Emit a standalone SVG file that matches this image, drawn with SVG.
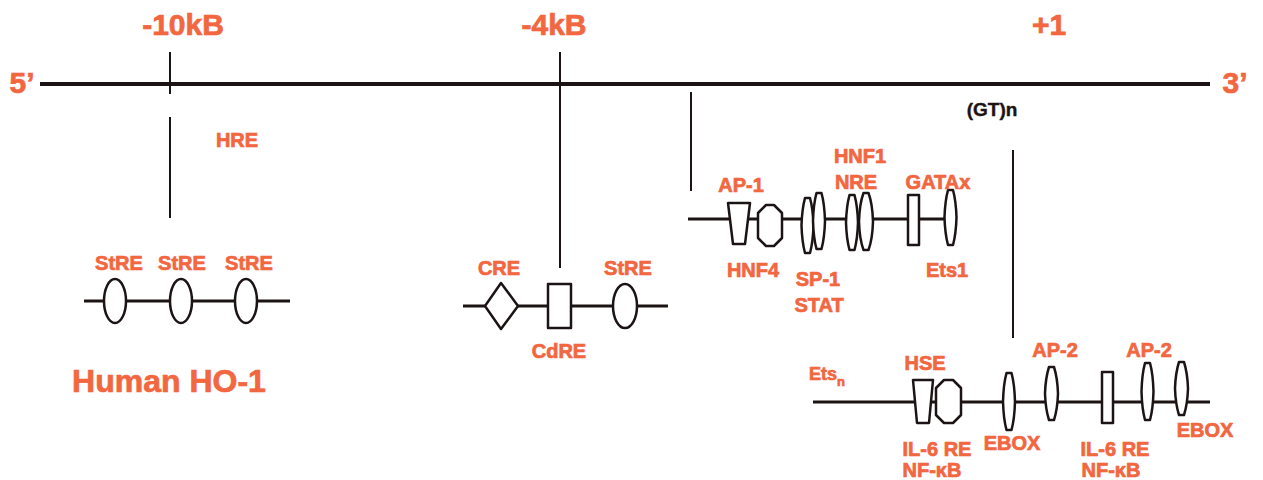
<svg xmlns="http://www.w3.org/2000/svg" width="1263" height="480" viewBox="0 0 1263 480">
<style>
.t{font-family:"Liberation Sans",Arial,sans-serif;font-weight:bold;fill:#F26640;stroke:#F26640;stroke-width:0.7;text-anchor:middle}
.big{font-size:30px}
.lab{font-size:20px}
.blk{fill:#1c1414;stroke:#1c1414;stroke-width:0.4;font-size:19px}
.ln{stroke:#1c1414;fill:none}
.sh{stroke:#1c1414;stroke-width:2.5;fill:#fff;stroke-linejoin:round}
</style>
<rect width="1263" height="480" fill="#fff"/>
<g id="connectors">
<line class="ln" x1="40" y1="84" x2="1210" y2="84" stroke-width="4"/>
<line class="ln" x1="170" y1="52" x2="170" y2="94" stroke-width="2"/>
<line class="ln" x1="170" y1="117" x2="170" y2="218" stroke-width="2"/>
<line class="ln" x1="560" y1="52" x2="560" y2="268" stroke-width="2"/>
<line class="ln" x1="691" y1="92" x2="691" y2="191" stroke-width="2"/>
<line class="ln" x1="1013" y1="150" x2="1013" y2="338" stroke-width="2"/>
<line class="ln" x1="84" y1="301" x2="290" y2="301" stroke-width="3"/>
<line class="ln" x1="463" y1="306" x2="668" y2="306" stroke-width="3"/>
<line class="ln" x1="688" y1="219" x2="952" y2="219" stroke-width="3"/>
<line class="ln" x1="813" y1="402" x2="1210" y2="402" stroke-width="3"/>
</g>
<g id="axis-labels">
<text class="t big" x="22" y="93">5’</text>
<text class="t big" x="1235" y="93">3’</text>
<text class="t big" x="183" y="35">-10kB</text>
<text class="t big" x="554" y="35">-4kB</text>
<text class="t big" x="1049" y="35">+1</text>
<text class="t blk" x="992" y="116">(GT)n</text>
<text class="t lab" x="237" y="147">HRE</text>
</g>
<g id="cluster-10kb">
<ellipse class="sh" cx="115" cy="301" rx="11" ry="22"/>
<ellipse class="sh" cx="181" cy="301" rx="11" ry="22"/>
<ellipse class="sh" cx="246" cy="301" rx="11" ry="22"/>
<text class="t lab" x="119" y="270">StRE</text>
<text class="t lab" x="182" y="270">StRE</text>
<text class="t lab" x="249" y="270">StRE</text>
<text class="t" x="169" y="392" style="font-size:32px">Human HO-1</text>
</g>
<g id="cluster-4kb">
<polygon class="sh" points="501,283 518,306 501,329 485,306"/>
<rect class="sh" x="548" y="284" width="23" height="44"/>
<ellipse class="sh" cx="625" cy="306" rx="12" ry="22"/>
<text class="t lab" x="499" y="275">CRE</text>
<text class="t lab" x="628" y="275">StRE</text>
<text class="t lab" x="559" y="358">CdRE</text>
</g>
<g id="cluster-proximal">
<polygon class="sh" points="728,203 750,203 745,244 733,244"/>
<polygon class="sh" points="766,205 774,205 782,213 782,238 774,246 766,246 758,238 758,213"/>
<path class="sh" d="M805,198 L810,198 Q813,209 813.5,225.5 Q813,242 810,253 L805,253 Q802,242 801.5,225.5 Q802,209 805,198 Z"/>
<path class="sh" d="M816.5,193 L821.5,193 Q824.5,204 825,221 Q824.5,238 821.5,249 L816.5,249 Q813.5,238 813,221 Q813.5,204 816.5,193 Z"/>
<path class="sh" d="M849.5,195 L854.5,195 Q857.5,206 858,222.5 Q857.5,239 854.5,250 L849.5,250 Q846.5,239 846,222.5 Q846.5,206 849.5,195 Z"/>
<path class="sh" d="M863.5,193 L868.5,193 Q872.5,204 873,221.5 Q872.5,239 868.5,250 L863.5,250 Q859.5,239 859,221.5 Q859.5,204 863.5,193 Z"/>
<rect class="sh" x="908" y="195" width="11" height="50"/>
<path class="sh" d="M948,190 L953,190 Q956,201 956.5,217.5 Q956,234 953,245 L948,245 Q945,234 944.5,217.5 Q945,201 948,190 Z"/>
<text class="t lab" x="741" y="192">AP-1</text>
<text class="t lab" x="860" y="163">HNF1</text>
<text class="t lab" x="856" y="189">NRE</text>
<text class="t lab" x="938" y="189">GATAx</text>
<text class="t lab" x="753" y="277">HNF4</text>
<text class="t lab" x="818" y="286">SP-1</text>
<text class="t lab" x="819" y="312">STAT</text>
<text class="t lab" x="947" y="277">Ets1</text>
</g>
<g id="cluster-distal">
<polygon class="sh" points="913,380 933,380 929,423 917,423"/>
<polygon class="sh" points="944,380 953,380 961,388 961,415 953,423 944,423 936,415 936,388"/>
<path class="sh" d="M1006.5,373 L1011.5,373 Q1014.5,384 1015,401.5 Q1014.5,419 1011.5,430 L1006.5,430 Q1003.5,419 1003,401.5 Q1003.5,384 1006.5,373 Z"/>
<path class="sh" d="M1049,367 L1054,367 Q1057.5,378 1058,393.5 Q1057.5,409 1054,420 L1049,420 Q1045.5,409 1045,393.5 Q1045.5,378 1049,367 Z"/>
<rect class="sh" x="1102" y="372" width="11" height="51"/>
<path class="sh" d="M1145,363 L1150,363 Q1153,374 1153.5,391.5 Q1153,409 1150,420 L1145,420 Q1142,409 1141.5,391.5 Q1142,374 1145,363 Z"/>
<path class="sh" d="M1179,362 L1184,362 Q1187.5,373 1188,388.5 Q1187.5,404 1184,415 L1179,415 Q1175.5,404 1175,388.5 Q1175.5,373 1179,362 Z"/>
<text class="t lab" x="809" y="380" style="text-anchor:start;font-size:18px">Ets<tspan dy="6" style="font-size:13px">n</tspan></text>
<text class="t lab" x="925" y="370">HSE</text>
<text class="t lab" x="1055" y="357">AP-2</text>
<text class="t lab" x="1149" y="357">AP-2</text>
<text class="t lab" x="937" y="456">IL-6 RE</text>
<text class="t lab" x="932" y="477">NF-κB</text>
<text class="t lab" x="1012" y="450">EBOX</text>
<text class="t lab" x="1115" y="456">IL-6 RE</text>
<text class="t lab" x="1111" y="477">NF-κB</text>
<text class="t lab" x="1205" y="437">EBOX</text>
</g>
</svg>
